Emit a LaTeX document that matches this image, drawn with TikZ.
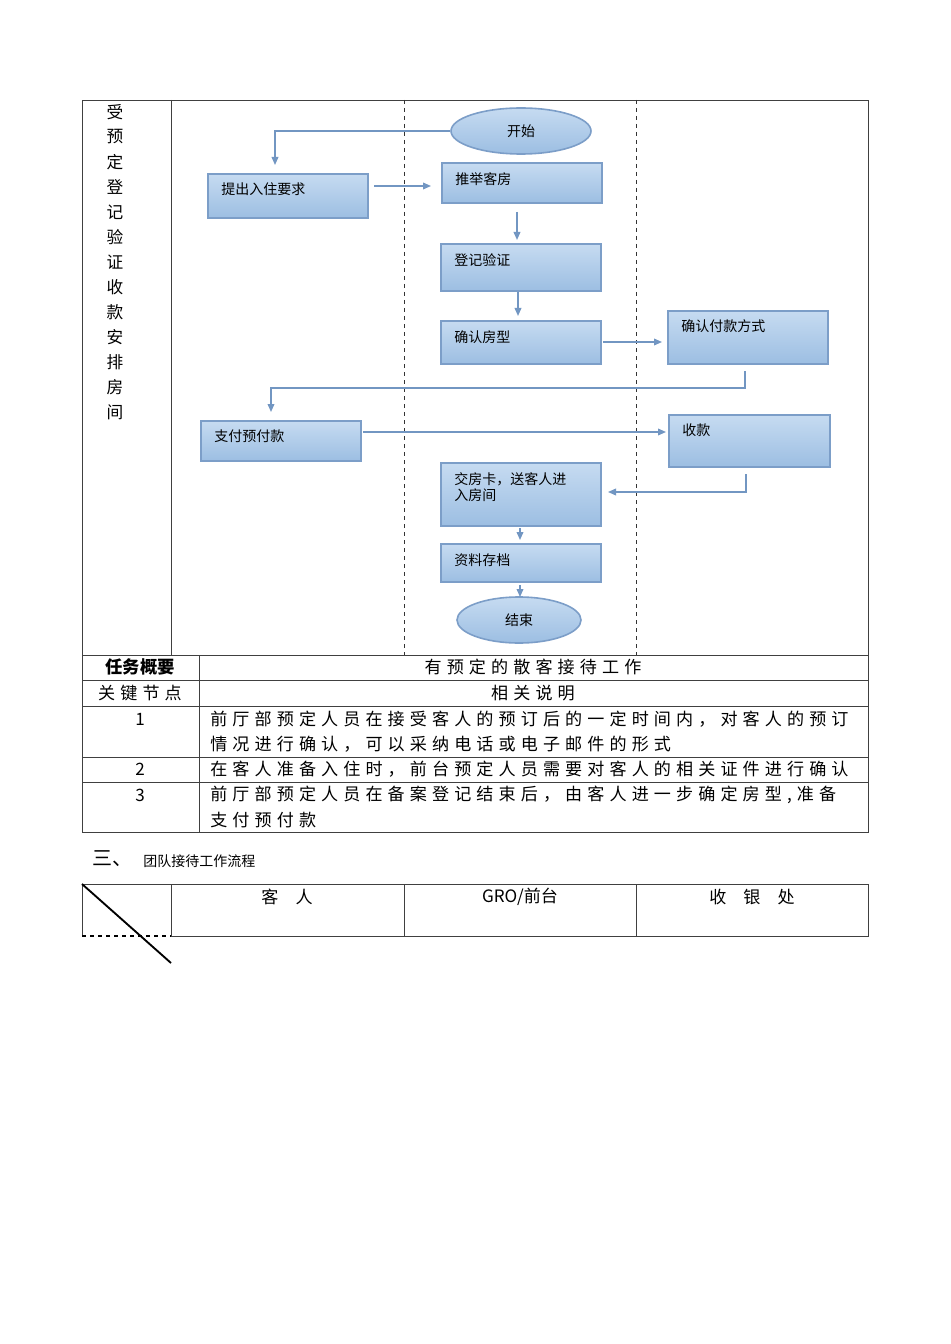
\documentclass[tikz,border=0pt]{standalone}
\usepackage{fontspec}
\setmainfont{Noto Sans CJK SC}
\newfontfamily\tblfont[LetterSpace=30]{Noto Sans CJK SC}
\usetikzlibrary{arrows.meta,shapes.geometric}
\begin{document}
\begin{tikzpicture}[x=0.75pt,y=-0.75pt,
  box/.style={draw=boxline,line width=1.2pt,top color=boxtop,bottom color=boxbot,rectangle,inner sep=0pt},
  oval/.style={draw=boxline,line width=1.2pt,top color=boxtop,bottom color=boxbot,ellipse,inner sep=0pt},
  lbl/.style={anchor=north west,font=\fontsize{10.5pt}{12pt}\selectfont,inner sep=0pt},
  arr/.style={draw=arrcol,line width=1.1pt,-{Triangle[length=6pt,width=5pt]}},
  tt/.style={font=\tblfont\fontsize{12.8pt}{14pt}\selectfont,inner sep=0pt},
  grid/.style={draw=black!75,line width=0.6pt}]
\definecolor{boxtop}{HTML}{C6DBF1}
\definecolor{boxbot}{HTML}{9CBEE2}
\definecolor{boxline}{HTML}{7C9EC8}
\definecolor{arrcol}{HTML}{7296C2}
\useasboundingbox[fill=white] (0,0) rectangle (950,1344);
% frame
\draw[grid] (82,100) rectangle (868,832);
\draw[grid] (171,100) -- (171,655);
\draw[black!80,dashed,line width=0.7pt] (404,100) -- (404,655);
\draw[black!80,dashed,line width=0.7pt] (636,100) -- (636,655);
\foreach \yy in {655,680,706,757,782} \draw[grid] (82,\yy) -- (868,\yy);
\draw[grid] (199,655) -- (199,832);
% vertical label
\foreach \c [count=\i from 0] in {受,预,定,登,记,验,证,收,款,安,排,房,间}
  \node[font=\fontsize{12.5pt}{14pt}\selectfont,inner sep=0pt] (v\i) at (115,{112+25*\i}) {\c};
% nodes
\node[oval,minimum width=140*0.75pt,minimum height=46*0.75pt] (start) at (521,131) {};
\node[font=\fontsize{10.5pt}{12pt}\selectfont] at (start) {开始};
\node[box,minimum width=160*0.75pt,minimum height=44*0.75pt] (n1) at (288,196) {};
\node[lbl] at (221,182) {提出入住要求};
\node[box,minimum width=160*0.75pt,minimum height=40*0.75pt] (n2) at (522,183) {};
\node[lbl] at (455,172) {推举客房};
\node[box,minimum width=160*0.75pt,minimum height=47*0.75pt] (n3) at (521,267.5) {};
\node[lbl] at (454,253) {登记验证};
\node[box,minimum width=160*0.75pt,minimum height=43*0.75pt] (n4) at (521,342.5) {};
\node[lbl] at (454,330) {确认房型};
\node[box,minimum width=160*0.75pt,minimum height=53*0.75pt] (n5) at (748,337.5) {};
\node[lbl] at (681,319) {确认付款方式};
\node[box,minimum width=160*0.75pt,minimum height=40*0.75pt] (n6) at (281,441) {};
\node[lbl] at (214,429) {支付预付款};
\node[box,minimum width=161*0.75pt,minimum height=52*0.75pt] (n7) at (749.5,441) {};
\node[lbl] at (682,423) {收款};
\node[box,minimum width=160*0.75pt,minimum height=63*0.75pt] (n8) at (521,494.5) {};
\node[lbl,align=left] at (454,472) {交房卡，送客人进\\入房间};
\node[box,minimum width=160*0.75pt,minimum height=38*0.75pt] (n9) at (521,563) {};
\node[lbl] at (454,553) {资料存档};
\node[oval,minimum width=124*0.75pt,minimum height=46*0.75pt] (end) at (519,620) {};
\node[font=\fontsize{10.5pt}{12pt}\selectfont] at (end) {结束};
% arrows
\coordinate (a1) at (275,131);
\draw[arr] (start.west) -- (a1) -- (275,165);
\draw[arr] (374,186) -- (431,186);
\draw[arr] (517,212) -- (517,240);
\draw[arr] (518,292) -- (518,316);
\draw[arr] (603,342) -- (662,342);
\draw[arr] (745,371) -- (745,388) -- (271,388) -- (271,412);
\draw[arr] (363,432) -- (666,432);
\draw[arr] (746,474) -- (746,492) -- (608,492);
\draw[arr] (520,528) -- (520,540);
\draw[arr] (520,585) -- (520,597);
% table text
\node[font=\bfseries\fontsize{13pt}{14pt}\selectfont,inner sep=0pt] (t1) at (140,667) {任务概要};
\node[tt] (t2) at (533,667) {有预定的散客接待工作};
\node[tt] (t3) at (140,693) {关键节点};
\node[tt] (t4) at (533,693) {相关说明};
\node[tt] (r1) at (140,719) {1};
\node[tt,anchor=west] (r1a) at (210,719) {前厅部预定人员在接受客人的预订后的一定时间内，对客人的预订};
\node[tt,anchor=west] (r1b) at (210,744) {情况进行确认，可以采纳电话或电子邮件的形式};
\node[tt] (r2) at (140,769) {2};
\node[tt,anchor=west] (r2a) at (210,769) {在客人准备入住时，前台预定人员需要对客人的相关证件进行确认};
\node[tt] (r3) at (140,795) {3};
\node[tt,anchor=west] (r3a) at (210,795) {前厅部预定人员在备案登记结束后，由客人进一步确定房型,准备};
\node[tt,anchor=west] (r3b) at (210,820) {支付预付款};
% section heading
\node[anchor=west,inner sep=0pt,font=\fontsize{15pt}{16pt}\selectfont] (h1) at (92,859) {三、};
\node[anchor=west,inner sep=0pt,font=\fontsize{10.5pt}{12pt}\selectfont] (h2) at (143,861) {团队接待工作流程};
% bottom table
\draw[grid] (82,936) -- (82,884) -- (868,884) -- (868,936) -- (171,936);
\draw[black,dashed,line width=0.8pt] (82,936) -- (171,936);
\foreach \xx in {171,404,636} \draw[grid] (\xx,884) -- (\xx,936);
\draw[black,line width=1.4pt] (82,884) -- (171,963);
\node[tt] (c1) at (287,897) {客\quad 人};
\node[inner sep=0pt,font=\fontsize{12.8pt}{14pt}\selectfont] (c2) at (520,897) {GRO/前台};
\node[tt] (c3) at (752,897) {收\quad 银\quad 处};
\end{tikzpicture}
\end{document}
